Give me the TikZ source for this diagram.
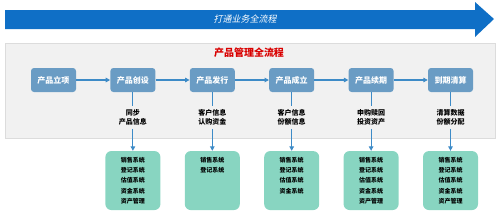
\documentclass[tikz,border=0pt]{standalone}
\usepackage{fontspec}
\setmainfont{Noto Sans CJK SC}
\newfontfamily\slantcjk{Noto Sans CJK SC}[FakeSlant=0.2]
\usetikzlibrary{
    arrows.meta,
    positioning
}

\definecolor{flowblue}{HTML}{0F6FC6}
\definecolor{stepblue}{HTML}{6A9CC4}
\definecolor{linkblue}{HTML}{3D8BC7}
\definecolor{sysgreen}{HTML}{88D5C1}
\definecolor{panelgray}{HTML}{F1F1F1}
\definecolor{panelline}{HTML}{DCDCDC}

\newcommand{\syslist}[1]{%
    \parbox[c][47pt][t]{48pt}{\centering\fontsize{6pt}{10.3pt}\selectfont\bfseries #1}}

\begin{document}
\begin{tikzpicture}[
        x=1pt, y=1pt,
        node distance=34pt,
        stage/.style={
            rectangle,
            rounded corners=3pt,
            fill=stepblue,
            text=white,
            minimum width=45pt,
            minimum height=24pt,
            inner sep=1pt,
            font=\fontsize{8pt}{9pt}\selectfont\bfseries
        },
        info/.style={
            align=center,
            inner sep=1pt,
            font=\fontsize{7pt}{9.5pt}\selectfont\bfseries
        },
        system/.style={
            rectangle,
            rounded corners=6pt,
            fill=sysgreen,
            minimum width=55pt,
            inner xsep=3pt,
            inner ysep=6pt
        },
        arrow/.style={
            -{Triangle[length=4.5pt,width=4.5pt]},
            line width=1.1pt,
            draw=linkblue
        },
        link/.style={
            line width=1.1pt,
            draw=linkblue
        }
    ]

    \useasboundingbox (0,0) rectangle (499,-220);

    % overall flow arrow
    \fill[flowblue] (5,-10) -- (475,-10) -- (475,-2) -- (494,-19)
        -- (475,-37) -- (475,-29) -- (5,-29) -- cycle;
    \node[text=white, font=\fontsize{9pt}{10pt}\slantcjk] (flow) at (245,-19)
        {打通业务全流程};

    % panel
    \draw[panelline, fill=panelgray] (5,-43) rectangle (495,-138);
    \node[text=red!85!black, font=\fontsize{10pt}{11pt}\selectfont\bfseries]
        (title) at (249,-53) {产品管理全流程};

    % stages
    \node[stage] (setup) at (53.5,-80) {产品立项};
    \node[stage, right=of setup] (design) {产品创设};
    \node[stage, right=of design] (issue) {产品发行};
    \node[stage, right=of issue] (found) {产品成立};
    \node[stage, right=of found] (renew) {产品续期};
    \node[stage, right=of renew] (clear) {到期清算};

    \draw[arrow] (setup) -- (design);
    \draw[arrow] (design) -- (issue);
    \draw[arrow] (issue) -- (found);
    \draw[arrow] (found) -- (renew);
    \draw[arrow] (renew) -- (clear);

    % exchanged data
    \node[info, below=16pt of design] (designinfo) {同步\\产品信息};
    \node[info, below=16pt of issue] (issueinfo) {客户信息\\认购资金};
    \node[info, below=16pt of found] (foundinfo) {客户信息\\份额信息};
    \node[info, below=16pt of renew] (renewinfo) {申购赎回\\投资资产};
    \node[info, below=16pt of clear] (clearinfo) {清算数据\\份额分配};

    \foreach \s in {design, issue, found, renew, clear}
        \draw[link, shorten >=2pt] (\s) -- (\s info);

    % involved systems
    \node[system, below=24pt of designinfo] (designsys)
        {\syslist{销售系统\\登记系统\\估值系统\\资金系统\\资产管理}};
    \node[system, below=24pt of issueinfo] (issuesys)
        {\syslist{销售系统\\登记系统}};
    \node[system, below=24pt of foundinfo] (foundsys)
        {\syslist{销售系统\\登记系统\\估值系统\\资金系统}};
    \node[system, below=24pt of renewinfo] (renewsys)
        {\syslist{销售系统\\登记系统\\估值系统\\资金系统\\资产管理}};
    \node[system, below=24pt of clearinfo] (clearsys)
        {\syslist{销售系统\\登记系统\\估值系统\\资金系统\\资产管理}};

    \foreach \s in {design, issue, found, renew, clear}
        \draw[arrow, shorten <=2pt] (\s info) -- (\s sys);

\end{tikzpicture}
\end{document}
